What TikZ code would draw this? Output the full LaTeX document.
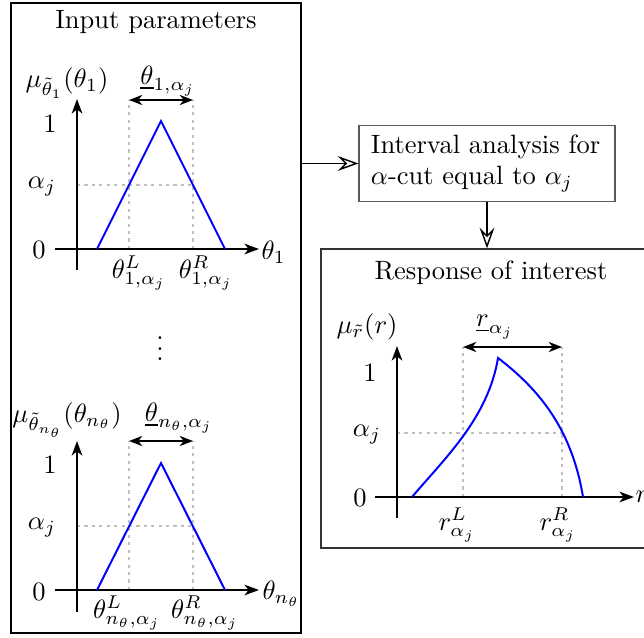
\documentclass[tikz,border=0pt]{standalone}
\usetikzlibrary{arrows.meta,fit}
\begin{document}
\begin{tikzpicture}[x=0.3774pt,y=-0.3774pt,
  axis/.style={line width=0.75pt,-{Stealth[length=5.5pt,width=4pt,inset=1.6pt]}},
  dbl/.style={line width=0.75pt,{Stealth[length=5pt,width=3.8pt,inset=1.5pt]}-{Stealth[length=5pt,width=3.8pt,inset=1.5pt]}},
  guide/.style={gray!50,dash pattern=on 1.2pt off 1.6pt,line width=0.4pt},
  memb/.style={blue,line width=0.75pt},
  flow/.style={line width=0.45pt,-{Stealth[open,fill=white,length=7.8pt,width=5.6pt,inset=2.8pt,line width=0.55pt]}},
  frame/.style={draw,inner sep=0pt,line width=0.5pt},
  lbl/.style={inner sep=0pt}]
\clip (0,0) rectangle (644,637);
% ---------- boxes ----------
\coordinate (ib1) at (11,3); \coordinate (ib2) at (301,633);
\node[frame,fit=(ib1)(ib2)] (inbox) {};
\coordinate (ob1) at (321,249); \coordinate (ob2) at (720,548);
\node[frame,draw=black!80,fit=(ob1)(ob2)] (outbox) {};
\node[draw=black!65,line width=0.45pt,text width=87.6pt,inner xsep=4.5pt,minimum height=27.5pt,align=left] (midbox) at (487,163.5)
  {Interval analysis for\\$\alpha$-cut equal to $\alpha_j$};
\draw[flow] (midbox.west -| inbox.east) -- (midbox.west);
\draw[flow] (midbox.south) -- (midbox.south |- outbox.north);
% ---------- titles ----------
\node[lbl] (tin) at (156,22) {Input parameters};
\node[lbl] (tout) at (491,273) {Response of interest};
% ---------- top input graph ----------
\coordinate (a1y0) at (77,270); \coordinate (a1y1) at (77,99);
\coordinate (a1x0) at (55,249); \coordinate (a1x1) at (259,249);
\coordinate (t1a) at (97,249); \coordinate (t1p) at (161,121); \coordinate (t1b) at (225,249);
\coordinate (t1L) at (129,249); \coordinate (t1R) at (193,249);
\coordinate (t1Lt) at (129,100); \coordinate (t1Rt) at (193,100);
\coordinate (t1al) at (77,185); \coordinate (t1ar) at (193,185);
\draw[guide] (t1L) -- (t1Lt);
\draw[guide] (t1R) -- (t1Rt);
\draw[guide] (t1al) -- (t1ar);
\draw[axis] (a1y0) -- (a1y1);
\draw[axis] (a1x0) -- (a1x1);
\draw[memb] (t1a) -- (t1p) -- (t1b);
\draw[dbl] (t1Lt) -- (t1Rt);
\node[lbl] (m1) at (67,83) {$\mu_{\tilde{\theta}_1}(\theta_1)$};
\node[lbl] (w1) at (168,81) {$\underline{\theta}_{1,\alpha_j}$};
\node[lbl] (one1) at (50,124) {$1$};
\node[lbl] (al1) at (42,187) {$\alpha_j$};
\node[lbl] (z1) at (39,250) {$0$};
\node[lbl,anchor=west] (x1) at (261,252) {$\theta_1$};
\node[lbl] (L1) at (139,273) {$\theta_{1,\alpha_j}^{L}$};
\node[lbl] (R1) at (206,273) {$\theta_{1,\alpha_j}^{R}$};
% ---------- dots ----------
\node[lbl] (dots) at (160,341) {$\vdots$};
% ---------- bottom input graph ----------
\coordinate (a2y0) at (77,612); \coordinate (a2y1) at (77,441);
\coordinate (a2x0) at (55,590); \coordinate (a2x1) at (259,590);
\coordinate (t2a) at (97,590); \coordinate (t2p) at (161,463); \coordinate (t2b) at (225,590);
\coordinate (t2L) at (129,590); \coordinate (t2R) at (193,590);
\coordinate (t2Lt) at (129,441); \coordinate (t2Rt) at (193,441);
\coordinate (t2al) at (77,526); \coordinate (t2ar) at (193,526);
\draw[guide] (t2L) -- (t2Lt);
\draw[guide] (t2R) -- (t2Rt);
\draw[guide] (t2al) -- (t2ar);
\draw[axis] (a2y0) -- (a2y1);
\draw[axis] (a2x0) -- (a2x1);
\draw[memb] (t2a) -- (t2p) -- (t2b);
\draw[dbl] (t2Lt) -- (t2Rt);
\node[lbl] (m2) at (67,420) {$\mu_{\tilde{\theta}_{n_\theta}}(\theta_{n_\theta})$};
\node[lbl] (w2) at (179,418) {$\underline{\theta}_{n_\theta,\alpha_j}$};
\node[lbl] (one2) at (50,465) {$1$};
\node[lbl] (al2) at (42,528) {$\alpha_j$};
\node[lbl] (z2) at (39,592) {$0$};
\node[lbl,anchor=west] (x2) at (262,594) {$\theta_{n_\theta}$};
\node[lbl] (L2) at (127,613) {$\theta_{n_\theta,\alpha_j}^{L}$};
\node[lbl] (R2) at (205,613) {$\theta_{n_\theta,\alpha_j}^{R}$};
% ---------- response graph ----------
\coordinate (a3y0) at (397,518); \coordinate (a3y1) at (397,346);
\coordinate (a3x0) at (375,497); \coordinate (a3x1) at (634,497);
\coordinate (c3a) at (412,497); \coordinate (c3p) at (498,358); \coordinate (c3b) at (583,497);
\coordinate (c3L) at (463,497); \coordinate (c3R) at (562,497);
\coordinate (c3Lt) at (463,347); \coordinate (c3Rt) at (562,347);
\coordinate (c3al) at (397,433); \coordinate (c3ar) at (562,433);
\draw[guide] (c3L) -- (c3Lt);
\draw[guide] (c3R) -- (c3Rt);
\draw[guide] (c3al) -- (c3ar);
\draw[axis] (a3y0) -- (a3y1);
\draw[axis] (a3x0) -- (a3x1);
\draw[memb] (c3a) .. controls (445,458) and (488,418) .. (c3p)
   .. controls (540,390) and (572,430) .. (c3b);
\draw[dbl] (c3Lt) -- (c3Rt);
\node[lbl] (m3) at (367,327) {$\mu_{\tilde{r}}(r)$};
\node[lbl] (w3) at (495,327) {$\underline{r}_{\alpha_j}$};
\node[lbl] (one3) at (370,373) {$1$};
\node[lbl] (al3) at (367,435) {$\alpha_j$};
\node[lbl] (z3) at (360,498) {$0$};
\node[lbl,anchor=west] (x3) at (635,497) {$r$};
\node[lbl] (L3) at (457,525) {$r_{\alpha_j}^{L}$};
\node[lbl] (R3) at (558,525) {$r_{\alpha_j}^{R}$};
\end{tikzpicture}
\end{document}
